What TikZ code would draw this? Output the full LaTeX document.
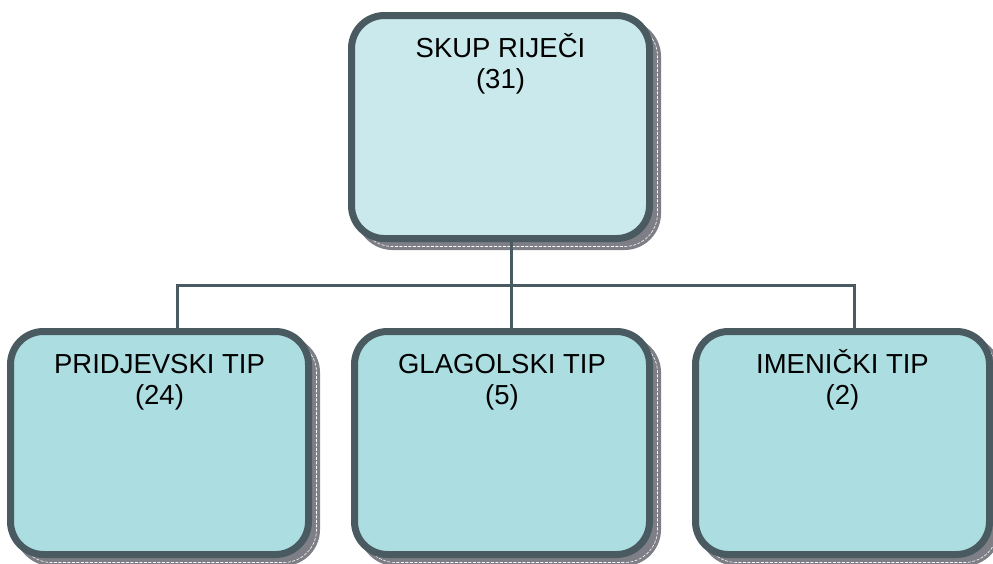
\documentclass[tikz,border=0pt]{standalone}
\usepackage{fontspec}
\setmainfont{Liberation Sans}
\usetikzlibrary{calc}
\definecolor{bord}{HTML}{4A5A61}
\definecolor{shad}{HTML}{7E7E86}
\definecolor{topfill}{HTML}{C9E9EC}
\definecolor{botfill}{HTML}{ACDDE1}
\tikzset{
  box/.style={draw=bord, line width=7pt, rounded corners=33pt, inner sep=0pt, minimum height=223pt},
  shadowbox/.style={draw=shad, fill=shad, line width=7pt, rounded corners=33pt, inner sep=0pt, minimum height=223pt},
  shadowline/.style={draw=white, line width=0.6pt, rounded corners=33pt, inner sep=0pt, minimum height=223pt, dash pattern=on 3pt off 1.5pt},
  lbl/.style={anchor=north, align=center, inner sep=0pt, font=\fontsize{27.5}{31}\selectfont},
  conn/.style={draw=bord, line width=3pt},
}
\begin{document}
\begin{tikzpicture}[x=1pt,y=-1pt]
\useasboundingbox (0,0) rectangle (993,563);
\clip (0,0) rectangle (993,563);
% connector coordinates
\coordinate (c0) at (511,285);
\coordinate (cl) at (177,285);
\coordinate (cr) at (854,285);
% shadows
\node[shadowbox, minimum width=298pt] (topS) at (508.5,135) {};
\node[shadowline, minimum width=298pt] (topL) at (508.5,135) {};
\node[shadowbox, minimum width=298pt] (leftS) at (167.5,451) {};
\node[shadowline, minimum width=298pt] (leftL) at (167.5,451) {};
\node[shadowbox, minimum width=295pt] (midS) at (510,451) {};
\node[shadowline, minimum width=295pt] (midL) at (510,451) {};
\node[shadowbox, minimum width=294pt] (rightS) at (850.5,451) {};
\node[shadowline, minimum width=294pt] (rightL) at (850.5,451) {};
% boxes
\node[box, fill=topfill, minimum width=298pt] (top) at (500.5,127) {};
\node[box, fill=botfill, minimum width=298pt] (left) at (159.5,443) {};
\node[box, fill=botfill, minimum width=295pt] (mid) at (502,443) {};
\node[box, fill=botfill, minimum width=294pt] (right) at (842.5,443) {};
% connectors
\draw[conn] (top.south -| c0) -- (c0);
\draw[conn] (left.north -| cl) -- (cl) -- (cr) -- (right.north -| cr);
\draw[conn] (c0) -- (mid.north -| c0);
% labels
\node[lbl] (topT) at ($(top.north)+(0,19)$) {\rule{0pt}{26pt}SKUP RIJEČI\\(31)};
\node[lbl] (leftT) at ($(left.north)+(0,19)$) {\rule{0pt}{26pt}PRIDJEVSKI TIP\\(24)};
\node[lbl] (midT) at ($(mid.north)+(0,19)$) {\rule{0pt}{26pt}GLAGOLSKI TIP\\(5)};
\node[lbl] (rightT) at ($(right.north)+(0,19)$) {\rule{0pt}{26pt}IMENIČKI TIP\\(2)};
\end{tikzpicture}
\end{document}
